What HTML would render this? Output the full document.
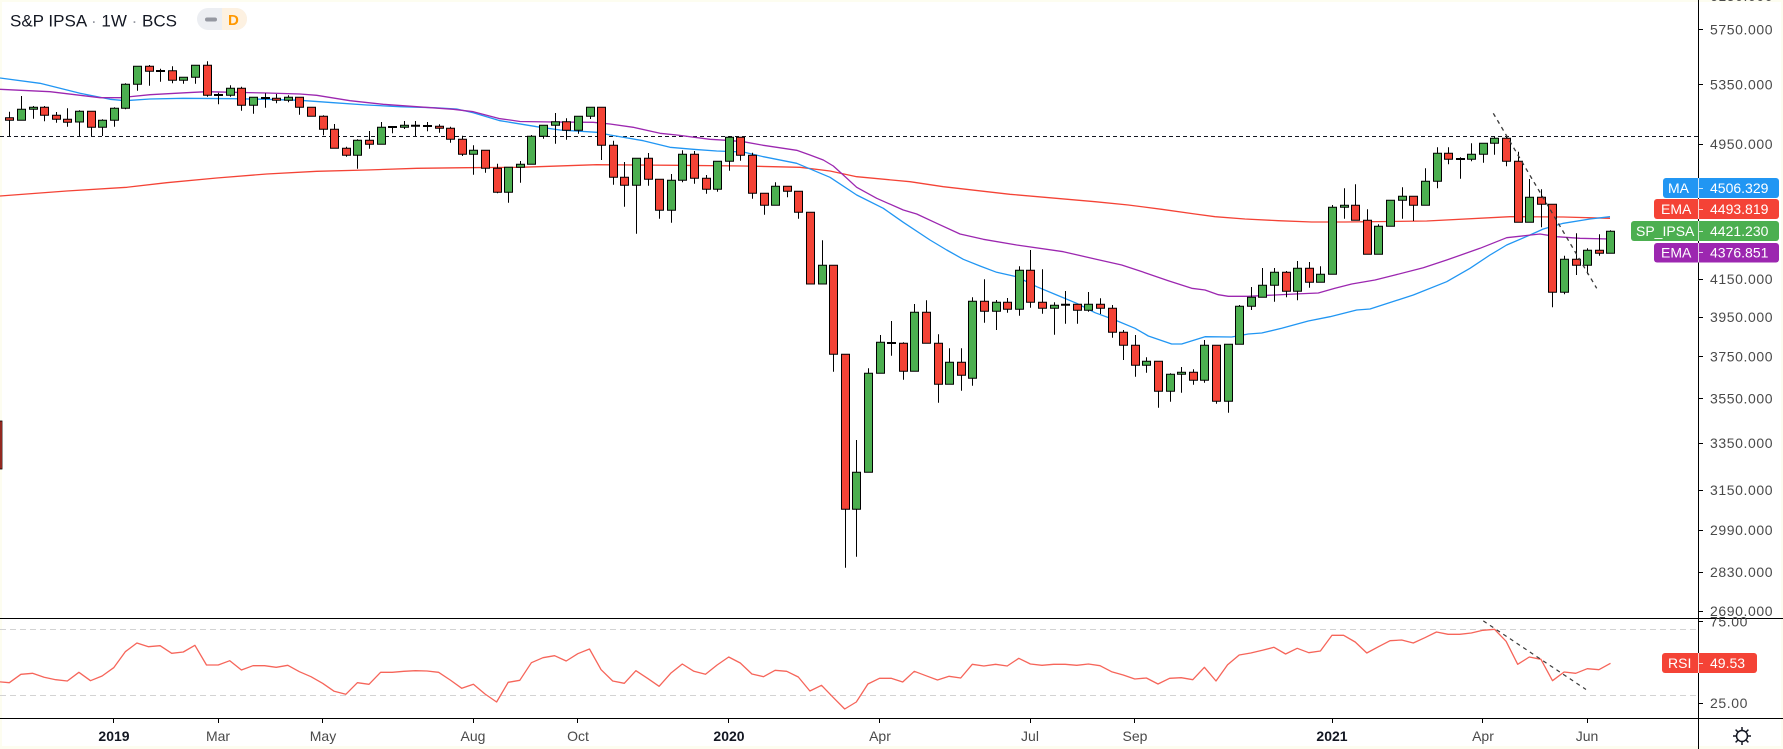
<!DOCTYPE html>
<html><head><meta charset="utf-8"><style>
html,body{margin:0;padding:0;background:#fdfdf0;}
body{width:1783px;height:749px;overflow:hidden;position:relative;font-family:"Liberation Sans",sans-serif;}
svg{position:absolute;left:0;top:0;}
.pl{font-size:14px;fill:#4a4a4a;letter-spacing:0.6px;}
.tl{font-size:14px;fill:#4a4a4a;text-anchor:middle;}
.tb{font-size:14px;fill:#131722;font-weight:bold;text-anchor:middle;}
.bt{font-size:14px;fill:#fff;}
</style></head><body>
<svg width="1783" height="749" viewBox="0 0 1783 749" xmlns="http://www.w3.org/2000/svg">
<defs>
<clipPath id="cm"><rect x="0" y="0" width="1698" height="618"/></clipPath>
<clipPath id="cr"><rect x="0" y="618" width="1698" height="100"/></clipPath>
</defs>
<rect x="2" y="2" width="1779" height="744" fill="#ffffff"/>

<g clip-path="url(#cm)">
<!-- horizontal dashed -->
<path d="M0 136.5H1698" stroke="#131722" stroke-width="1" stroke-dasharray="4 3" fill="none"/>
<!-- EMA long red -->
<polyline fill="none" stroke="#f44336" stroke-width="1.3" stroke-linejoin="round" points="0,196 66.7,191 126.7,187.3 166.7,182.7 216.7,178 266.7,174 316.7,171.3 366.7,170 416.7,168.3 466.7,167.7 520,167.3 596.7,164.7 676.7,165.3 743.3,166 800,167.3 830,171 856.7,176.7 910,181.7 943.3,186.7 1010,194.3 1095,201.7 1128.3,205 1161.7,209.3 1195,214 1215,216.7 1245,219 1278.3,220.7 1311.7,222 1345,222 1426.7,221 1510,216.7 1563.3,217 1610,218.3"/>
<!-- MA blue -->
<polyline fill="none" stroke="#2196f3" stroke-width="1.3" stroke-linejoin="round" points="0,78 40,83.3 80,93.3 110,99.3 125.3,100.7 150,99 183.3,98.3 233.3,98.7 266.7,99.3 300,100.3 333.3,102.7 366.7,105 400,106.7 433.3,107.7 456.7,109 473.3,112.7 500,120.7 510,122.3 536.7,126.7 560,130 596.7,132.3 610,135 643.3,140.7 670,147.3 693.3,149.3 716.7,151 743.3,152 763.3,156.7 796.7,163.3 830,177.3 856.7,195 883.3,208.3 903.3,222.3 930,240 946.7,250 963.3,259.3 980,266 996.7,272.3 1016.7,276.7 1036.7,286.7 1056.7,295 1076.7,303.3 1095,312.7 1115,320 1135,328.3 1148.3,336 1171.7,344 1181.7,344 1205,336.7 1231.7,337 1248.3,334 1261.7,333 1281.7,328.3 1308.3,321 1330,316.7 1356.7,310 1370,309 1413.3,295 1446.7,281.7 1470,268.3 1490,255 1506.7,245 1530,235 1543.3,229 1563.3,223.3 1590,219 1610,216.7"/>
<!-- EMA purple -->
<polyline fill="none" stroke="#9c27b0" stroke-width="1.3" stroke-linejoin="round" points="0,89.3 50,91.7 83.3,95.7 100,97.7 120,97.7 150,94.7 186.7,92.7 206.7,91.7 233.3,92.3 266.7,93 300,94 316.7,95.3 350,100.7 383.3,104.3 416.7,106.7 453.3,109.3 473.3,111.7 500,118.7 510,120 520,121.5 553.3,122 593.3,122.3 610,124 633.3,127.3 660,133.3 676.7,135 710,139.3 726.7,140.3 743.3,141.7 763.3,145.3 776.7,147.3 796.7,150.3 810,155 823.3,160 833.3,166 843.3,175 856.7,187.3 876.7,198.3 903.3,210 916.7,214 936.7,223.3 960,234 983.3,239.3 1016.7,245 1063.3,251.7 1095,259 1121.7,265 1145,272.7 1168.3,280.7 1191.7,288.3 1205,290 1218.3,294.7 1228.3,296.3 1248.3,296.3 1268.3,295.3 1295,294 1318.3,293 1335,288.3 1351.7,284 1375,280 1395,275 1423.3,267.7 1446.7,260 1480,248.3 1506.7,237.7 1540,234 1556.7,236.7 1580,238.3 1610,239"/>

<!-- wicks -->
<path fill="none" stroke="#000" stroke-width="1" d="M9.5 111.7V136M21.5 96V120.3M33.5 106V118.7M44.5 106V121.3M56.5 112V122.7M67.5 108.3V126.7M79.5 110.3V136M91.5 111.3V136M102.5 119.3V136M114.5 107.3V126.7M125.5 83.3V109.3M137.5 66.3V90.7M149.5 65V85.7M160.5 68.7V81.7M172.5 66.3V83.3M183.5 77.3V83.7M195.5 65.3V83.7M207.5 61.3V96.7M218.5 92.7V104.3M230.5 85.3V96.7M241.5 86.7V110.7M253.5 97.3V113.7M265.5 93.3V107.7M276.5 94V103.3M288.5 95.3V102.3M299.5 97.3V114.7M311.5 107.3V116.3M323.5 115.3V135.3M334.5 124V148.3M346.5 146.7V156.7M357.5 139.3V168.7M369.5 131V148.7M381.5 122V144.3M392.5 126.7V133.3M404.5 121V129M415.5 121V136M427.5 122V131.3M439.5 124.3V132.7M450.5 126.7V142.7M462.5 135.7V156M473.5 145.3V174.7M485.5 150.3V172.7M497.5 163.7V193.3M508.5 167.3V202.7M520.5 161V182.7M531.5 135V164.3M543.5 125.3V138.7M555.5 113V143.7M566.5 118.3V139.7M578.5 116.3V133.7M590.5 107.3V119M601.5 107.3V160M613.5 140.7V184.7M624.5 162V206.7M636.5 158.3V233.7M648.5 153V185.7M659.5 179.3V218.7M671.5 174V222.7M682.5 150.3V182.3M694.5 151V183.7M706.5 175V193.7M717.5 161.3V191.7M729.5 136V170.7M740.5 137.3V160.7M752.5 152.7V198.7M764.5 193.3V214.7M775.5 182.3V205.3M787.5 186.3V197.3M798.5 191.3V218.7M810.5 212.3V284M822.5 240.3V284M833.5 265.3V371.7M845.5 354.3V567.7M856.5 440V556.7M868.5 368.3V472.3M880.5 335V373.3M891.5 321V355.7M903.5 342.3V379.7M914.5 304V371.3M926.5 300.3V343.3M938.5 334.3V402.7M949.5 348.3V384.3M961.5 348.3V390.7M972.5 297.3V385.7M984.5 279.3V322.7M996.5 300V330M1007.5 298V312.7M1019.5 266.3V315.7M1030.5 250V307.7M1042.5 269.3V313.7M1054.5 302.3V334.7M1065.5 291V323.7M1077.5 304.3V323.7M1088.5 292V311.7M1100.5 298.3V314M1112.5 305V337.7M1123.5 330V360M1135.5 335V376.7M1146.5 357.3V372.7M1158.5 361.3V407.7M1170.5 373.3V401.7M1181.5 367V392.7M1193.5 369.3V384.7M1204.5 340V382.7M1216.5 345.3V403.7M1228.5 344.3V412.7M1239.5 305V344.3M1251.5 287V310M1262.5 268V297.3M1274.5 268V301.7M1286.5 271V297.3M1297.5 261V300.3M1309.5 262V287.7M1320.5 266.3V282.3M1332.5 205V274.3M1344.5 188.3V218.7M1355.5 184.3V220.3M1367.5 209.3V254.3M1378.5 224.3V254.3M1390.5 200.3V226.3M1402.5 187.3V218.7M1413.5 196.3V221M1425.5 168.3V205.3M1437.5 147.3V188.3M1448.5 147.3V164.3M1460.5 157.3V178.7M1471.5 143.3V161.3M1483.5 143.3V162.7M1494.5 136.7V154.7M1506.5 136.7V166.3M1518.5 151.7V222.3M1529.5 179V222.3M1541.5 189.3V227.3M1552.5 204.3V307.3M1564.5 255.7V294.3M1576.5 233.3V275M1587.5 248.3V274.3M1599.5 234.3V255.7M1610.5 230.3V253.3"/>

<!-- green bodies -->
<path fill="#4caf50" stroke="#000" stroke-width="1" d="M17.5 109.3h8v11h-8zM29.5 107.3h8v2h-8zM75.5 111.3h8v10.7h-8zM98.5 120.3h8v7h-8zM110.5 108.3h8v12h-8zM121.5 84.3h8v24h-8zM133.5 66.3h8v18h-8zM179.5 77.3h8v3h-8zM191.5 65.3h8v12h-8zM226.5 88.3h8v7h-8zM249.5 97.3h8v8h-8zM284.5 97.3h8v3h-8zM353.5 140.3h8v15h-8zM377.5 127.3h8v17h-8zM400.5 125.3h8v2h-8zM469.5 150.3h8v4h-8zM504.5 167.3h8v25h-8zM516.5 164.3h8v3h-8zM527.5 136.3h8v28h-8zM539.5 125.3h8v11h-8zM551.5 121.7h8v3.6h-8zM574.5 116.3h8v14h-8zM586.5 107.3h8v9h-8zM632.5 158.3h8v27h-8zM667.5 180.3h8v30h-8zM678.5 154.3h8v26h-8zM713.5 161.3h8v28h-8zM725.5 137.3h8v24h-8zM771.5 186.3h8v19h-8zM818.5 265.3h8v18.7h-8zM852.5 472.3h8v37h-8zM864.5 373.3h8v99h-8zM876.5 342.3h8v31h-8zM910.5 312.3h8v59h-8zM945.5 362.3h8v22h-8zM968.5 301.3h8v77h-8zM992.5 302.3h8v9h-8zM1015.5 270.3h8v39h-8zM1050.5 305.3h8v3h-8zM1084.5 304.3h8v6h-8zM1142.5 361.3h8v4h-8zM1166.5 374.3h8v17h-8zM1177.5 372.3h8v2h-8zM1200.5 345.3h8v35h-8zM1224.5 344.3h8v57h-8zM1235.5 306.3h8v38h-8zM1247.5 297.3h8v9h-8zM1258.5 285.3h8v12h-8zM1270.5 272.3h8v13h-8zM1293.5 268.3h8v23h-8zM1316.5 274.3h8v8h-8zM1328.5 207.3h8v67h-8zM1340.5 205.3h8v2h-8zM1374.5 226.3h8v28h-8zM1386.5 200.3h8v26h-8zM1398.5 196.3h8v4h-8zM1421.5 181.3h8v24h-8zM1433.5 153.3h8v28h-8zM1467.5 154.3h8v5h-8zM1479.5 143.3h8v11h-8zM1490.5 138.3h8v5h-8zM1525.5 197.3h8v25h-8zM1560.5 259.3h8v33h-8zM1583.5 250.3h8v15h-8zM1606.5 231.3h8v22h-8z"/>
<!-- red bodies -->
<path fill="#f44336" stroke="#000" stroke-width="1" d="M5.5 117.7h8v2.6h-8zM40.5 107.3h8v8h-8zM52.5 115.3h8v4h-8zM63.5 119.3h8v3h-8zM87.5 111.3h8v16h-8zM145.5 66.3h8v5h-8zM168.5 70.7h8v9.6h-8zM203.5 65.3h8v30h-8zM237.5 88.3h8v17h-8zM272.5 98.3h8v2h-8zM295.5 97.3h8v10h-8zM307.5 107.3h8v9h-8zM319.5 116.3h8v13h-8zM330.5 129.3h8v19h-8zM342.5 148.3h8v7h-8zM365.5 140.3h8v4h-8zM435.5 126.3h8v2h-8zM446.5 128.3h8v11h-8zM458.5 139.3h8v15h-8zM481.5 150.3h8v18h-8zM493.5 168.3h8v24h-8zM562.5 121.7h8v8.6h-8zM597.5 107.3h8v38h-8zM609.5 145.3h8v32h-8zM620.5 177.3h8v8h-8zM644.5 158.3h8v21h-8zM655.5 179.3h8v31h-8zM690.5 154.3h8v24h-8zM702.5 178.3h8v11h-8zM736.5 137.3h8v18h-8zM748.5 155.3h8v38h-8zM760.5 193.3h8v12h-8zM783.5 186.3h8v5h-8zM794.5 191.3h8v21h-8zM806.5 212.3h8v71.7h-8zM829.5 265.3h8v89h-8zM841.5 354.3h8v155h-8zM899.5 343.3h8v28h-8zM922.5 312.3h8v31h-8zM934.5 343.3h8v41h-8zM957.5 362.3h8v13h-8zM980.5 301.3h8v10h-8zM1003.5 302.3h8v7h-8zM1026.5 270.3h8v32h-8zM1038.5 302.3h8v6h-8zM1073.5 304.3h8v6h-8zM1096.5 304.3h8v4h-8zM1108.5 308.3h8v24h-8zM1119.5 332.3h8v13h-8zM1131.5 345.3h8v20h-8zM1154.5 361.3h8v30h-8zM1189.5 372.3h8v8h-8zM1212.5 345.3h8v56h-8zM1282.5 272.3h8v19h-8zM1305.5 268.3h8v14h-8zM1351.5 205.3h8v15h-8zM1363.5 220.3h8v34h-8zM1409.5 196.3h8v9h-8zM1444.5 153.3h8v6h-8zM1502.5 138.3h8v23h-8zM1514.5 161.3h8v61h-8zM1537.5 197.3h8v7h-8zM1548.5 204.3h8v88h-8zM1572.5 259.3h8v6h-8zM1595.5 250.3h8v3h-8z"/>
<!-- dojis -->
<path fill="none" stroke="#000" stroke-width="2" d="M156 71h9M214 95h9M261 98h9M388 127h9M411 125.7h9M423 126h9M887 343h9M1061 304.7h9M1456 159h9"/>
<!-- trend line -->
<path d="M1493.3 113.3L1596.7 288.3" stroke="#3a3a3a" stroke-width="1.3" stroke-dasharray="4 4" fill="none"/>
</g>

<!-- RSI pane -->
<g clip-path="url(#cr)">
<path d="M0 629.5H1698M0 695.5H1698" stroke="#d3d3d3" stroke-width="1" stroke-dasharray="6 4" fill="none"/>
<polyline fill="none" stroke="#f6655a" stroke-width="1.3" stroke-linejoin="round" points="-2.3,681.7 9.3,682.7 20.9,674.3 32.5,673.3 44.1,677.3 55.7,679.7 67.3,681 78.9,672.3 90.5,680.7 102.1,676 113.7,667.7 125.3,651.7 136.9,643 148.5,646.7 160.1,645.7 171.7,653.3 183.3,652 194.9,645.3 206.5,665 218.2,665 229.8,660.7 241.4,670 253,665.7 264.6,665.7 276.2,667.3 287.8,665.3 299.4,671.7 311,676.7 322.6,683.3 334.2,691.3 345.8,694.3 357.4,682.7 369,684.3 380.6,672.3 392.2,672.3 403.8,671.3 415.4,670.7 427,671 438.6,672.3 450.2,680 461.8,688.3 473.4,684.3 485,694 496.6,702 508.2,682.3 519.8,680.3 531.4,662.7 543,657.7 554.6,655.7 566.2,661 577.8,653.7 589.5,649 601.1,669.7 612.7,681 624.3,683.3 635.9,670.7 647.5,678.3 659.1,686.3 670.7,673.3 682.3,664 693.9,671.3 705.5,674.3 717.1,665 728.7,657 740.3,663 751.9,674 763.5,676.7 775.1,670.3 786.7,671.3 798.3,677 809.9,691 821.5,685.3 833.1,697.3 844.7,709 856.3,702 867.9,684 879.5,678.3 891.1,678.3 902.7,682 914.3,671.3 925.9,675.7 937.5,680 949.1,676.3 960.7,678 972.3,664.3 983.9,666 995.6,664.3 1007.2,666 1018.8,658.3 1030.4,664 1042,665.3 1053.6,664.3 1065.2,664.3 1076.8,665.3 1088.4,664 1100,665.7 1111.6,671.7 1123.2,675 1134.8,679 1146.4,678 1158,684 1169.6,678.3 1181.2,677.7 1192.8,679.7 1204.4,667.3 1216,681 1227.6,664.7 1239.2,655 1250.8,653 1262.4,650.3 1274,647.3 1285.6,654 1297.2,648.3 1308.8,652.7 1320.4,651 1332,635.3 1343.6,635.3 1355.2,642 1366.8,653 1378.5,646.7 1390.1,640.7 1401.7,640 1413.3,643 1424.9,637.7 1436.5,632 1448.1,634.3 1459.7,634.3 1471.3,633 1482.9,630.3 1494.5,629.3 1506.1,641.3 1517.7,664.3 1529.3,657 1540.9,659.3 1552.5,680.7 1564.1,672 1575.7,673.3 1587.3,668.7 1598.9,669.7 1610.5,663.3"/>
<path d="M1470 612L1586 689.5" stroke="#3a3a3a" stroke-width="1.2" stroke-dasharray="4 4" fill="none"/>
</g>

<!-- left edge artifact -->
<rect x="0" y="421" width="2" height="48" fill="#f44336" stroke="#000" stroke-width="0.8"/>

<!-- frame lines -->
<path d="M0 618.5H1783M0 718.5H1783M1698.5 0V749" stroke="#000" stroke-width="1" fill="none"/>

<!-- price axis ticks -->
<path d="M1698 -4.5h5M1698 29.5h5M1698 84.5h5M1698 144.5h5M1698 279.5h5M1698 317.5h5M1698 356.5h5M1698 398.5h5M1698 443.5h5M1698 490.5h5M1698 530.5h5M1698 572.5h5M1698 611.5h5M1698 621.5h5M1698 703.5h5" stroke="#000" stroke-width="1"/>
<g class="pl">
<text x="1710" y="1">6150.000</text>
<text x="1710" y="34.5">5750.000</text>
<text x="1710" y="89.5">5350.000</text>
<text x="1710" y="149">4950.000</text>
<text x="1710" y="284">4150.000</text>
<text x="1710" y="322">3950.000</text>
<text x="1710" y="361.5">3750.000</text>
<text x="1710" y="403.5">3550.000</text>
<text x="1710" y="448">3350.000</text>
<text x="1710" y="495">3150.000</text>
<text x="1710" y="535">2990.000</text>
<text x="1710" y="577">2830.000</text>
<text x="1710" y="616">2690.000</text>
<text x="1710" y="626.5">75.00</text>
<text x="1710" y="708">25.00</text>
</g>
<path d="M0 618.5H1698" stroke="#000" stroke-width="1"/>

<!-- badges -->
<rect x="1663" y="178" width="116" height="20" rx="3" fill="#2196f3"/>
<rect x="1654" y="199" width="125" height="20" rx="3" fill="#f44336"/>
<rect x="1631" y="221" width="148" height="20" rx="3" fill="#4caf50"/>
<rect x="1654" y="243" width="125" height="19.5" rx="3" fill="#9c27b0"/>
<rect x="1662" y="653" width="95" height="20" rx="3" fill="#f44336"/>
<path d="M1698.5 178V198M1698.5 199V219M1698.5 221V241M1698.5 243V262.5M1698.5 653V673" stroke="#fff" stroke-opacity="0.75" stroke-width="1"/>
<path d="M1699 188.5h4M1699 209.5h4M1699 231.5h4M1699 252.5h4M1699 663.5h4" stroke="#fff" stroke-opacity="0.75" stroke-width="1"/>
<g class="bt">
<text x="1668" y="193">MA</text><text x="1710" y="193">4506.329</text>
<text x="1661" y="214">EMA</text><text x="1710" y="214">4493.819</text>
<text x="1636" y="236">SP_IPSA</text><text x="1710" y="236">4421.230</text>
<text x="1661" y="257.5">EMA</text><text x="1710" y="257.5">4376.851</text>
<text x="1668" y="668">RSI</text><text x="1710" y="668">49.53</text>
</g>

<!-- time axis -->
<path d="M113.5 718v5M218.5 718v5M322.5 718v5M473.5 718v5M577.5 718v5M728.5 718v5M879.5 718v5M1030.5 718v5M1134.5 718v5M1332.5 718v5M1482.5 718v5M1587.5 718v5" stroke="#000" stroke-width="1"/>
<text class="tb" x="114" y="741">2019</text>
<text class="tl" x="218" y="741">Mar</text>
<text class="tl" x="323" y="741">May</text>
<text class="tl" x="473" y="741">Aug</text>
<text class="tl" x="578" y="741">Oct</text>
<text class="tb" x="729" y="741">2020</text>
<text class="tl" x="880" y="741">Apr</text>
<text class="tl" x="1030" y="741">Jul</text>
<text class="tl" x="1135" y="741">Sep</text>
<text class="tb" x="1332" y="741">2021</text>
<text class="tl" x="1483" y="741">Apr</text>
<text class="tl" x="1587" y="741">Jun</text>

<!-- gear -->
<g transform="translate(1742,736)" stroke="#131722" stroke-width="1.5" fill="none">
<circle r="5.5"/>
<path d="M0 -9V-5.5M0 5.5V9M-9 0H-5.5M5.5 0H9M-6.4 -6.4L-3.9 -3.9M3.9 3.9L6.4 6.4M-6.4 6.4L-3.9 3.9M3.9 -3.9L6.4 -6.4"/>
</g>

<!-- title -->
<text x="10" y="26.5" font-size="17" fill="#131722">S&amp;P IPSA <tspan fill="#9598a1">·</tspan> 1W <tspan fill="#9598a1">·</tspan> BCS</text>
<rect x="197" y="8" width="50" height="22" rx="11" fill="#eceef2"/>
<path d="M222 8h14a11 11 0 0 1 0 22h-14z" fill="#fdf1e1"/>
<rect x="205" y="17.5" width="12" height="4" rx="2" fill="#9598a1"/>
<text x="228" y="25" font-size="15" font-weight="bold" fill="#ff9800">D</text>
</svg>
</body></html>
